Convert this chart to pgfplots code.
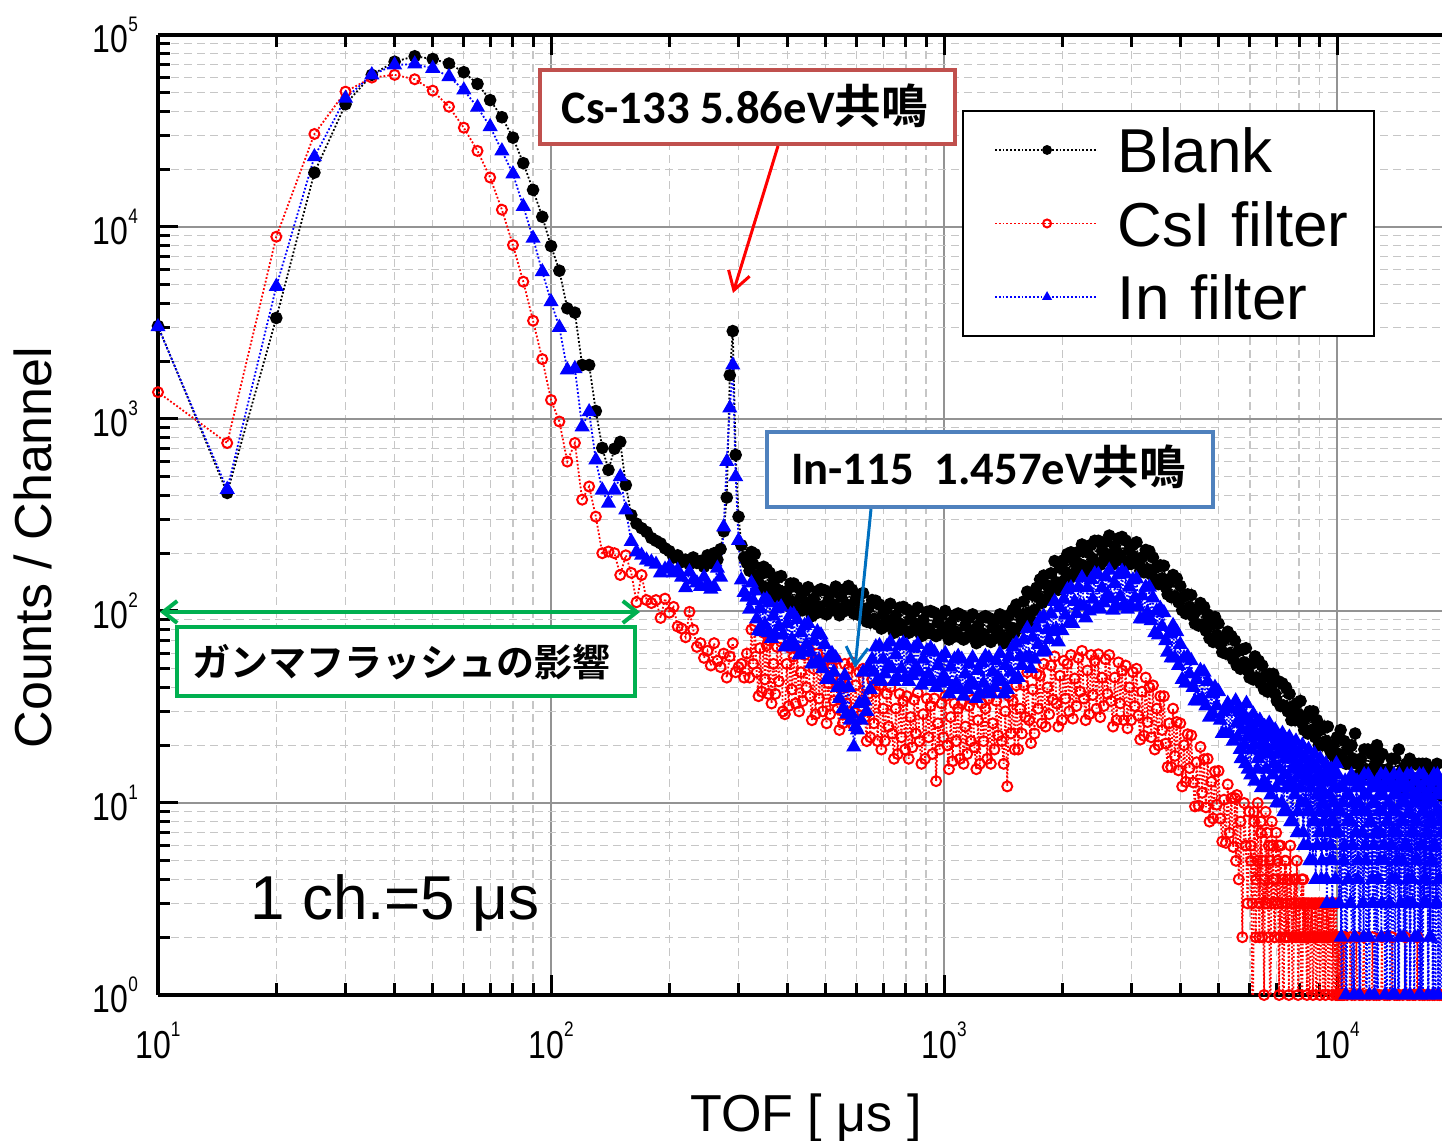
\documentclass[border=0pt]{standalone}
\usepackage{fontspec}
\setmainfont{Liberation Sans}
\newfontfamily\tickfont{Liberation Sans}[FakeStretch=0.82]
\newfontfamily\cjk{Noto Sans CJK JP}[BoldFont={Noto Sans CJK JP Bold}]
\newfontfamily\calib{Carlito}
\usepackage{pgfplots}
\pgfplotsset{compat=1.18}
\usetikzlibrary{arrows.meta}
\definecolor{csred}{RGB}{192,80,77}
\definecolor{inblue}{RGB}{79,129,189}
\definecolor{arrblue}{RGB}{0,112,192}
\definecolor{grn}{RGB}{0,176,80}
\newcommand{\tlab}[1]{{\tickfont\fontsize{19.5}{20}\selectfont 10\raisebox{10.8pt}{\fontsize{10.5}{11}\selectfont #1}}}
\begin{document}
\begin{tikzpicture}
\begin{axis}[
  scale only axis, width=642pt, height=480pt,
  xmode=log, ymode=log,
  xmin=10, xmax=18490, ymin=1, ymax=1e5,
  axis x line=box, axis y line=left,
  x axis line style={-}, y axis line style={-},
  axis line style={line width=2pt, black},
  tick align=inside,
  major tick length=10pt, minor tick length=6pt,
  every tick/.style={black, line width=1.5pt},
  xtick={10,100,1000,10000}, xticklabels={\tlab{1},\tlab{2},\tlab{3},\tlab{4}},
  ytick={1,10,100,1000,10000,100000}, yticklabels={\tlab{0},\tlab{1},\tlab{2},\tlab{3},\tlab{4},\tlab{5}},
  xticklabel style={yshift=-10pt},
  yticklabel style={xshift=-6.5pt},
  grid=both,
  major grid style={draw=gray!85, line width=0.7pt},
  minor grid style={draw=gray!45, line width=0.6pt, dash pattern=on 4pt off 2.5pt},
  label style={font=\fontsize{26}{30}\selectfont},
  xlabel={TOF [ μs ]},
  ylabel={Counts / Channel},
  xlabel style={at={(axis description cs:0.5047,-0.1427)}, anchor=base},
  ylabel style={at={(axis description cs:-0.0826,0.4661)}, anchor=base},
  legend style={at={(rel axis cs:0.6262,0.9219)}, anchor=north west,
    draw=black, line width=1pt, fill=white,
    font=\fontsize{31}{37}\selectfont,
    inner xsep=1pt, inner ysep=8pt, row sep=13.75pt, column sep=4pt,
    nodes={inner xsep=6pt, inner ysep=0pt, text height=23pt, text depth=0pt, text width=121pt, align=left},
    cells={anchor=west}},
  legend image code/.code={\path[draw=none, fill=none] (0pt,0pt) rectangle (66pt,1pt); \draw[#1, mark=none, line width=0.8pt] (15pt,0pt) -- (66pt,0pt); \draw[#1, mark size=2pt] plot[only marks] coordinates {(41pt,0pt)};},
]
\addplot[black, densely dotted, line width=0.9pt, mark=*, mark size=2.7pt, mark options={solid, fill=black}] coordinates {
(10,3050)(15,412)(20,3360)(25,19200)(30,43600)(35,62000)(40,72600)(45,77500)(50,75000)(55,71000)(60,64000)(65,55600)(70,45800)(75,37300)(80,29200)(85,21500)(90,15600)(95,11300)(100,7960)(105,5920)(110,3770)(115,3580)(120,1910)(125,1910)(130,1100)(135,707)(140,543)(145,700)(150,760)(155,453)(160,316)(165,285)(170,270)(175,258)(180,240)(185,232)(190,225)(195,212)(200,205)(205,190)(210,195)(215,180)(220,185)(225,175)(230,190)(235,178)(240,182)(245,170)(250,195)(255,178)(260,200)(265,185)(270,210)(275,260)(280,390)(285,1690)(290,2870)(295,650)(300,310)(305,220)(310,190)(315,178)
(320,162)(323.5,203)(327,175)(330,198)(333.6,153)(337.3,140)(340,155)(343.7,130)(347.5,170)(350,133)(353.9,165)(357.7,125)(360,158)(364,118)(368,140)(372,119)(376,149)(380,128)(385,152)(389,118)(393.5,108)(398,127)(402.4,106)(406.8,139)(410,112)(414.5,139)(419,105)(423,133)(427.7,100)(432.3,118)(437,101)(441.8,127)(446.6,109)(451,133)(456,103)(461,94)(466,116)(471,97)(476,127)(481,105)(486.3,130)(491.6,98)(497,128)(502.5,96)(508,113)(513,100)(518.6,125)(524.3,108)(530,134)(535.8,104)(541.7,95)(547,119)(553,99)(559,130)(565,108)(571.2,135)(577.4,101)(583,129)(589.4,97)(595.8,114)(602,96)(608.6,121)(615.2,104)(622,124)(628.8,96)(635.7,88)(642,104)(649,87)(656,114)(663,91)(670.3,113)(677.6,85)(685,108)(692.5,81)(700,96)(707,83)(714.8,104)(722.6,89)(730,109)(738,85)(746,77)(754,95)(762.3,79)(770.6,104)(779,85)(787.6,105)(796,79)(804,102)(812.8,77)(821.7,91)(830,79)(839,99)(848,85)(857,104)(866.4,81)(875.9,74)(885,90)(894.7,76)(904.5,99)(914,81)(924,100)(934,76)(944,98)(954.4,74)(964.8,87)(975,76)(985.7,95)(996.5,81)
(1007,100)(1018,78)(1029,71)(1040,87)(1051,73)(1063,95)(1074,78)(1086,97)(1098,73)(1109,95)(1121,71)(1133,84)(1145,73)(1158,92)(1170,79)(1182,96)(1195,74)(1208,68)(1220,84)(1233,70)(1247,92)(1260,76)(1274,94)(1288,71)(1301,92)(1315,69)(1330,82)(1343,72)(1358,90)(1373,78)(1387,96)(1402,74)(1418,68)(1432,87)(1448,73)(1464,95)(1479,82)(1495,101)(1512,77)(1527,108)(1544,81)(1561,96)(1577,89)(1594,112)(1612,96)(1628,126)(1646,98)(1664,89)(1681,121)(1699,101)(1718,132)(1736,118)(1755,146)(1774,110)(1793,153)(1813,115)(1832,136)(1851,125)(1871,157)(1892,135)(1911,182)(1932,141)(1953,129)(1973,168)(1995,141)(2016,184)(2037,160)(2059,198)(2082,150)(2103,202)(2126,151)(2149,179)(2172,162)(2196,203)(2220,175)(2243,222)(2268,172)(2292,157)(2316,202)(2341,169)(2367,221)(2391,187)(2417,232)(2444,175)(2469,232)(2496,174)(2523,206)(2549,183)(2577,229)(2605,197)(2632,247)(2661,192)(2690,175)(2718,218)(2748,183)(2778,239)(2806,196)(2837,243)(2868,183)(2897,233)(2929,175)(2961,207)(2991,176)(3024,221)(3057,190)(3088,228)(3122,177)(3156,162)(3189,190)(3224,159)(3259,208)(3293,165)(3329,205)(3365,155)(3400,190)(3437,143)(3475,169)(3511,138)(3550,173)(3588,148)(3625,172)(3665,133)(3705,122)(3743,141)(3784,118)(3825,154)(3865,119)(3908,148)(3950,111)(3991,135)(4035,101)(4079,119)(4121,97)(4166,122)(4212,105)(4255,121)(4302,94)(4349,86)(4393,101)(4441,84)(4490,110)(4536,85)(4586,105)(4636,79)(4684,96)(4736,72)(4787,85)(4836,69)(4889,93)(4942,75)(4993,86)(5048,67)(5103,61)(5155,71)(5212,60)(5268,78)(5323,60)(5382,74)(5440,56)(5496,70)(5556,52)(5617,62)(5675,50)(5737,63)(5800,54)(5860,64)(5924,49)(5989,45)(6050,53)(6117,44)(6183,58)(6247,45)(6316,55)(6385,42)(6450,52)(6521,39)(6592,46)(6660,38)(6733,47)(6807,41)(6877,47)(6953,37)(7028,34)(7100,43)(7178,32)(7256,42)(7331,32)(7412,40)(7492,30)(7570,37)(7653,27)(7736,32)(7816,27)(7902,33)(7988,29)(8070,34)(8159,26)(8248,24)(8333,28)(8425,23)(8516,30)(8604,24)(8699,30)(8793,22)(8884,27)(8982,20)(9079,24)(9173,20)(9274,25)(9375,21)(9471,25)(9575,19)(9679,18)(9779,20)(9887,17)(9994,22)
(10097,18)(10208,24)(10319,17)(10425,21)(10540,16)(10654,19)(10764,16)(10882,20)(11001,17)(11114,23)(11236,16)(11358,14)(11475,17)(11601,14)(11727,19)(11848,15)(11978,19)(12109,14)(12233,18)(12368,14)(12502,16)(12631,20)(12770,17)(12909,15)(13041,18)(13184,14)(13328,13)(13465,15)(13613,13)(13761,17)(13903,14)(14056,17)(14209,13)(14355,19)(14513,12)(14671,15)(14821,13)(14984,16)(15147,14)(15303,17)(15471,13)(15640,12)(15800,16)(15974,12)(16148,16)(16314,13)(16493,16)(16673,12)(16844,16)(17029,12)(17214,14)(17392,12)(17583,15)(17774,13)(17957,16)(18155,12)(18352,11)(18500,14)
};
\addlegendentry{Blank}
\addplot[red, densely dotted, line width=0.9pt, mark=o, mark size=2.5pt, mark options={solid, line width=1pt}] coordinates {
(10,1380)(15,750)(20,8900)(25,30500)(30,50700)(35,60000)(40,62000)(45,58800)(50,51300)(55,42300)(60,32900)(65,24900)(70,18100)(75,12300)(80,8050)(85,5190)(90,3250)(95,2050)(100,1256)(105,970)(110,600)(115,750)(120,380)(125,445)(130,310)(135,200)(140,204)(145,200)(150,154)(155,195)(160,158)(165,111)(170,154)(175,114)(180,110)(185,114)(190,92)(195,116)(200,98)(205,105)(210,83)(215,81)(220,73)(225,99)(230,80)(235,65)(240,68)(245,57)(250,62)(255,52)(260,68)(265,55)(270,51)(275,60)(280,45)(285,58)(290,68)(295,48)(300,51)(305,53)(310,45)(315,60)
(320,45)(323.5,80)(327,53)(330,84)(333.6,48)(337.3,36)(340,64)(343.7,38)(347.5,77)(350,44)(353.9,66)(357.7,37)(360,70)(364,33)(368,53)(372,37)(376,65)(380,43)(385,69)(389,30)(393.5,29)(398,53)(402.4,32)(406.8,64)(410,39)(414.5,58)(419,33)(423,63)(427.7,30)(432.3,48)(437,34)(441.8,59)(446.6,40)(451,64)(456,36)(461,27)(466,50)(471,29)(476,60)(481,35)(486.3,53)(491.6,30)(497,55)(502.5,26)(508,42)(513,29)(518.6,51)(524.3,34)(530,56)(535.8,31)(541.7,24)(547,44)(553,26)(559,53)(565,33)(571.2,50)(577.4,28)(583,54)(589.4,25)(595.8,41)(602,27)(608.6,48)(615.2,32)(622,50)(628.8,28)(635.7,21)(642,37)(649,22)(656,44)(663,26)(670.3,38)(677.6,21)(685,41)(692.5,19)(700,31)(707,21)(714.8,37)(722.6,25)(730,40)(738,23)(746,17)(754,31)(762.3,18)(770.6,37)(779,22)(787.6,34)(796,19)(804,36)(812.8,17)(821.7,28)(830,19.5)(839,34.5)(848,23)(857,37.5)(866.4,21)(875.9,16)(885,29)(894.7,17)(904.5,35)(914,22)(924,32)(934,18)(944,35)(954.4,13)(964.8,26)(975,19)(985.7,33)(996.5,22)
(1007,36)(1018,20)(1029,15)(1040,28)(1051,16.5)(1063,33)(1074,21)(1086,31)(1098,17)(1109,33)(1121,16)(1133,25)(1145,18)(1158,32)(1170,21)(1182,34.5)(1195,19.5)(1208,15)(1220,27)(1233,16)(1247,33)(1260,21)(1274,31)(1288,17)(1301,35)(1315,16)(1330,26)(1343,19)(1358,34)(1373,22.5)(1387,37.5)(1402,21)(1418,16)(1432,30)(1448,12.2)(1464,36)(1479,23)(1495,34)(1512,19)(1527,41)(1544,19)(1561,31)(1577,23)(1594,41)(1612,28)(1628,48)(1646,27)(1664,20.5)(1681,39)(1699,23)(1718,47)(1736,31)(1755,46)(1774,26)(1793,53)(1813,25)(1832,40)(1851,29)(1871,52)(1892,34.5)(1911,58)(1932,33)(1953,25)(1973,46)(1995,27)(2016,55)(2037,35)(2059,53)(2082,30)(2103,59)(2126,27.5)(2149,44.5)(2172,32)(2196,57)(2220,38)(2243,62)(2268,35)(2292,27)(2316,49)(2341,29)(2367,59)(2391,36.5)(2417,55)(2444,31)(2469,59.5)(2496,28)(2523,45)(2549,32)(2577,56)(2605,37)(2632,59)(2661,34)(2690,25)(2718,45)(2748,27)(2778,54)(2806,33)(2837,49)(2868,27)(2897,52)(2929,24.5)(2961,40)(2991,27)(3024,48)(3057,32)(3088,50)(3122,28.5)(3156,21.4)(3189,38)(3224,22.4)(3259,45)(3293,26.4)(3329,40)(3365,22)(3400,41)(3437,19)(3475,31)(3511,20)(3550,36)(3588,24)(3625,36)(3665,20.4)(3705,15.4)(3743,26)(3784,15.4)(3825,31)(3865,17.6)(3908,26.4)(3950,14.8)(3991,26)(4035,12.2)(4079,20)(4121,12.9)(4166,22.8)(4212,15.2)(4255,22.5)(4302,12.8)(4349,9.6)(4393,16.3)(4441,9.7)(4490,19.6)(4536,11.3)(4586,16.9)(4636,9.5)(4684,17)(4736,8)(4787,12.9)(4836,8.3)(4889,14.6)(4942,9.8)(4993,14.7)(5048,8.3)(5103,6.3)(5155,10.4)(5212,6.2)(5268,12.5)(5323,7)(5382,10.6)(5440,5.9)(5496,10.6)(5530,5)
(5560,11)(5620,4)(5680,8)(5740,2)(5800,10)(5860,6)(5920,3)(5980,9)(6040,5)(6100,0.5)(6160,8)(6220,4)(6280,10)(6340,2)(6400,7)(6460,5)(6520,1)(6580,9)(6640,3)(6700,6)(6760,0.5)(6820,8)(6880,4)(6940,2)(7000,7)(7060,5)(7120,1)(7180,6)(7240,3)(7300,0.5)(7360,5)(7420,2)(7480,4)(7540,1)(7600,6)(7660,3)(7720,0.5)(7780,4)(7840,2)(7900,5)(7960,1)(8020,3)(8080,2)(8140,0.5)(8200,4)(8260,2)(8320,3)(8380,1)(8440,3)(8500,0.5)(8560,2)(8620,3)(8680,1)(8740,2)(8800,3)(8860,0.5)(8920,2)(8980,3)(9040,1)(9100,2)(9160,3)(9220,0.5)(9280,2)(9340,1)(9400,3)(9460,2)(9520,0.5)(9580,2)(9640,3)(9700,1)(9760,2)(9820,0.5)(9880,2)(9940,3)
(10000,1)(10100,2)(10200,0.5)(10300,1)(10400,2)(10500,0.5)(10600,1)(10700,0.5)(10800,2)(10900,1)(11000,0.5)(11100,1)(11200,2)(11300,0.5)(11400,1)(11500,0.5)(11600,1)(11700,2)(11800,0.5)(11900,1)(12000,0.5)(12100,1)(12200,0.5)(12300,2)(12400,1)(12500,0.5)(12600,1)(12700,0.5)(12800,1)(12900,0.5)(13000,2)(13100,0.5)(13200,1)(13300,0.5)(13400,1)(13500,0.5)(13600,1)(13700,0.5)(13800,2)(13900,0.5)(14000,1)(14100,0.5)(14200,1)(14300,0.5)(14400,1)(14500,0.5)(14600,0.5)(14700,1)(14800,0.5)(14900,2)(15000,0.5)(15100,1)(15200,0.5)(15300,1)(15400,0.5)(15500,0.5)(15600,1)(15700,0.5)(15800,1)(15900,0.5)(16000,2)(16100,0.5)(16200,1)(16300,0.5)(16400,0.5)(16500,1)(16600,0.5)(16700,1)(16800,0.5)(16900,0.5)(17000,1)(17100,0.5)(17200,1)(17300,0.5)(17400,0.5)(17500,1)(17600,0.5)(17700,1)(17800,0.5)(17900,0.5)(18000,1)(18100,0.5)(18200,1)(18300,0.5)(18400,1)(18500,0.5)
};
\addlegendentry{CsI filter}
\addplot[red, densely dotted, line width=0.9pt, mark=o, mark size=2.5pt, mark options={solid, line width=1pt}, forget plot] coordinates {
(6030,6)(6090,3)(6150,9)(6210,2)(6270,5)(6330,3)(6390,8)(6450,2)(6510,4)(6570,3)(6630,7)(6690,2)(6750,5)(6810,3)(6870,6)(6930,2)(6990,4)(7050,3)(7110,6)(7170,2)(7230,3)(7290,4)(7350,2)(7410,5)(7470,3)(7530,2)(7590,4)(7650,3)(7710,2)(7770,3)(7830,4)(7890,2)(7950,3)(8010,2)(8070,3)(8130,4)(8190,2)(8250,3)(8310,2)(8370,3)(8430,2)(8490,3)(8550,2)(8610,3)(8670,2)(8730,3)(8790,2)(8850,3)(8910,2)(8970,3)(9030,2)(9090,3)(9150,2)(9210,3)(9270,2)(9330,3)(9390,2)(9450,3)(9510,2)(9570,3)(9630,2)(9690,3)(9750,2)(9810,3)(9870,2)(9930,1)(9990,2)(10050,1)(10110,2)(10170,1)(10230,2)(10290,1)(10350,2)(10410,1)(10470,2)
};
\addplot[blue, densely dotted, line width=0.9pt, mark=triangle*, mark size=3.5pt, mark options={solid, fill=blue}] coordinates {
(10,3020)(15,430)(20,4900)(25,23200)(30,46800)(35,62000)(40,69800)(45,70600)(50,67000)(55,60700)(60,51700)(65,42000)(70,33300)(75,24900)(80,18900)(85,12800)(90,8730)(95,5850)(100,4080)(105,3000)(110,1800)(115,1830)(120,910)(125,1090)(130,611)(135,426)(140,364)(145,426)(150,500)(155,336)(160,230)(165,203)(170,195)(175,184)(180,180)(185,175)(190,158)(195,165)(200,170)(205,158)(210,163)(215,150)(220,132)(225,160)(230,145)(235,140)(240,134)(245,150)(250,138)(255,130)(260,134)(265,167)(270,150)(275,274)(280,600)(285,1140)(290,1910)(295,500)(300,233)(305,145)(310,125)(315,118)
(320,102)(323.5,140)(327,113)(330,127)(333.6,91)(337.3,79)(340,103)(343.7,78)(347.5,114)(350,85)(353.9,115)(357.7,77)(360,110)(364,72)(368,94)(372,75)(376,103)(380,83)(385,105)(389,75)(393.5,65)(398,86)(402.4,66)(406.8,96)(410,71)(414.5,96)(419,65)(423,90)(427.7,59)(432.3,77)(437,61)(441.8,84)(446.6,67)(451,86)(456,61)(461,53)(466,70)(471,53)(476,78)(481,55)(486.3,75)(491.6,50)(497,67)(502.5,44)(508,57)(513,44)(518.6,60)(524.3,48)(530,57)(535.8,40)(541.7,35)(547,41)(553,31)(559,46)(565,29)(571.2,40)(577.4,27)(583,29)(589.4,19.6)(595.8,25)(602,24)(608.6,33)(615.2,27)(622,48)(628.8,34)(635.7,30)(642,51)(649,39)(656,56)(663,48)(670.3,65)(677.6,44)(685,66)(692.5,43)(700,56)(707,47)(714.8,65)(722.6,52)(730,69)(738,50)(746,43)(754,59)(762.3,45)(770.6,66)(779,50)(787.6,68)(796,45)(804,66)(812.8,43)(821.7,56)(830,46)(839,64)(848,51)(857,67)(866.4,48)(875.9,41)(885,56)(894.7,43)(904.5,62)(914,47)(924,64)(934,43)(944,61)(954.4,40)(964.8,52)(975,42)(985.7,57)(996.5,46)
(1007,60)(1018,43)(1029,37)(1040,51)(1051,39)(1063,56)(1074,42)(1086,58)(1098,39)(1109,56)(1121,36)(1133,47)(1145,39)(1158,53)(1170,43)(1182,57)(1195,41)(1208,35)(1220,49)(1233,37)(1247,54)(1260,42)(1274,58)(1288,39)(1301,57)(1315,37)(1330,48)(1343,40)(1358,55)(1373,45)(1387,60)(1402,43)(1418,37)(1432,52)(1448,39)(1464,58)(1479,48)(1495,65)(1512,44)(1527,68)(1544,45)(1561,58)(1577,52)(1594,71)(1612,57)(1628,81)(1646,58)(1664,50)(1681,73)(1699,56)(1718,82)(1736,67)(1755,91)(1774,61)(1793,94)(1813,62)(1832,80)(1851,71)(1871,97)(1892,78)(1911,112)(1932,80)(1953,69)(1973,104)(1995,79)(2016,115)(2037,95)(2059,129)(2082,87)(2103,132)(2126,86)(2149,112)(2172,97)(2196,133)(2220,107)(2243,149)(2268,106)(2292,92)(2316,132)(2341,100)(2367,146)(2391,115)(2417,156)(2444,105)(2469,155)(2496,102)(2523,132)(2549,110)(2577,151)(2605,122)(2632,163)(2661,116)(2690,101)(2718,139)(2748,106)(2778,155)(2806,119)(2837,161)(2868,108)(2897,156)(2929,102)(2961,133)(2991,106)(3024,145)(3057,117)(3088,147)(3122,105)(3156,91)(3189,120)(3224,91)(3259,133)(3293,98)(3329,133)(3365,89)(3400,117)(3437,77)(3475,100)(3511,75)(3550,103)(3588,83)(3625,98)(3665,70)(3705,61)(3743,76)(3784,57)(3825,84)(3865,57)(3908,78)(3950,52)(3991,67)(4035,44)(4079,57)(4121,42)(4166,58)(4212,47)(4255,55)(4302,40)(4349,34)(4393,44)(4441,34)(4490,49)(4536,35)(4586,48)(4636,32)(4684,43)(4736,28)(4787,37)(4836,29)(4889,40)(4942,32)(4993,38)(5048,27)(5103,23)(5155,30)(5212,23)(5268,33)(5323,23)(5382,31)(5440,21)
(5520,34)(5580,22)(5640,30)(5700,17)(5760,27)(5820,20)(5880,33)(5940,15)(6000,25)(6060,19)(6120,29)(6180,13)(6240,23)(6300,17)(6360,27)(6420,12)(6480,21)(6540,25)(6600,15)(6660,19)(6720,26)(6780,11)(6840,22)(6900,16)(6960,24)(7020,10)(7080,18)(7140,21)(7200,13)(7260,23)(7320,9)(7380,17)(7440,20)(7500,12)(7560,22)(7620,8)(7680,15)(7740,19)(7800,11)(7860,21)(7920,7)(7980,14)(8040,18)(8100,10)(8160,20)(8220,6)(8280,13)(8340,17)(8400,9)(8460,19)(8520,5)(8580,12)(8640,16)(8700,8)(8760,18)(8820,4)(8880,11)(8940,15)(9000,7)(9060,17)(9120,4)(9180,10)(9240,14)(9300,6)(9360,16)(9420,3)(9480,9)(9540,13)(9600,5)(9660,15)(9720,3)(9780,8)(9840,12)(9900,4)(9960,16)
(10040,14)(10120,3)(10200,9)(10280,0.5)(10360,12)(10440,6)(10520,1)(10600,11)(10680,4)(10760,13)(10840,8)(10920,0.5)(11000,10)(11080,2)(11160,7)(11240,13)(11320,5)(11400,1)(11480,12)(11560,9)(11640,3)(11720,14)(11800,6)(11880,0.5)(11960,11)(12040,2)(12120,8)(12200,13)(12280,4)(12360,10)(12440,1)(12520,7)(12600,12)(12680,0.5)(12760,9)(12840,5)(12920,14)(13000,3)(13080,11)(13160,6)(13240,1)(13320,13)(13400,8)(13480,2)(13560,10)(13640,0.5)(13720,12)(13800,4)(13880,7)(13960,14)(14040,1)(14120,9)(14200,5)(14280,11)(14360,0.5)(14440,13)(14520,3)(14600,8)(14680,12)(14760,2)(14840,6)(14920,10)(15000,0.5)(15080,14)(15160,4)(15240,9)(15320,1)(15400,12)(15480,7)(15560,3)(15640,11)(15720,0.5)(15800,13)(15880,5)(15960,8)(16040,2)(16120,10)(16200,14)(16280,1)(16360,6)(16440,12)(16520,0.5)(16600,9)(16680,4)(16760,11)(16840,3)(16920,13)(17000,7)(17080,0.5)(17160,10)(17240,2)(17320,12)(17400,5)(17480,8)(17560,1)(17640,14)(17720,6)(17800,0.5)(17880,11)(17960,3)(18040,9)(18120,13)(18200,4)(18280,0.5)(18360,12)(18440,7)
};
\addlegendentry{In filter}
\addplot[blue, densely dotted, line width=0.9pt, mark=triangle*, mark size=3.5pt, mark options={solid, fill=blue}, forget plot] coordinates {
(5550,26)(5610,31)(5670,19)(5730,24)(5790,29)(5850,16)(5910,22)(5970,27)(6030,14)(6090,24)(6150,20)(6210,26)(6270,15)(6330,22)(6390,18)(6450,24)(6510,13)(6570,20)(6630,23)(6690,12)(6750,18)(6810,24)(6870,14)(6930,20)(6990,12)(7050,22)(7110,15)(7170,19)(7230,10)(7290,21)(7350,14)(7410,18)(7470,9)(7530,20)(7590,13)(7650,17)(7710,8)(7770,19)(7830,12)(7890,16)(7950,9)(8010,18)(8070,12)(8130,15)(8190,7)(8250,17)(8310,10)(8370,14)(8430,6)(8490,16)(8550,9)(8610,13)(8670,5)(8730,15)(8790,8)(8850,13)(8910,6)(8970,14)(9030,9)(9090,12)(9150,5)(9210,13)(9270,8)(9330,11)(9390,4)(9450,14)(9510,7)(9570,11)(9630,6)(9690,13)(9750,5)(9810,10)(9870,7)(9930,14)(9990,9)
(10080,7)(10160,12)(10240,2)(10320,10)(10400,5)(10480,13)(10560,0.5)(10640,8)(10720,11)(10800,3)(10880,14)(10960,6)(11040,1)(11120,9)(11200,12)(11280,4)(11360,10)(11440,0.5)(11520,13)(11600,7)(11680,2)(11760,11)(11840,5)(11920,9)(12000,14)(12080,1)(12160,8)(12240,12)(12320,3)(12400,6)(12480,10)(12560,0.5)(12640,13)(12720,4)(12800,11)(12880,7)(12960,2)(13040,9)(13120,12)(13200,5)(13280,14)(13360,0.5)(13440,8)(13520,10)(13600,3)(13680,13)(13760,6)(13840,1)(13920,11)(14000,9)(14080,4)(14160,12)(14240,7)(14320,0.5)(14400,14)(14480,2)(14560,10)(14640,5)(14720,8)(14800,13)(14880,1)(14960,11)(15040,6)(15120,3)(15200,12)(15280,9)(15360,0.5)(15440,14)(15520,4)(15600,10)(15680,7)(15760,2)(15840,13)(15920,8)(16000,5)(16080,11)(16160,1)(16240,12)(16320,6)(16400,0.5)(16480,9)(16560,14)(16640,3)(16720,10)(16800,4)(16880,13)(16960,7)(17040,1)(17120,11)(17200,8)(17280,2)(17360,12)(17440,5)(17520,0.5)(17600,10)(17680,6)(17760,13)(17840,3)(17920,9)(18000,14)(18080,1)(18160,11)(18240,4)(18320,8)(18400,12)(18480,0.5)
};
\end{axis}
% annotations (absolute positions, axis lower-left at origin)
\node[anchor=base west, inner sep=0pt] at (46pt,37.5pt) {\fontsize{31}{31}\selectfont 1 ch.=5 μs};
\draw[csred, line width=2pt, fill=white] (191pt,425.5pt) rectangle (398.5pt,462.5pt);
\node[anchor=base, inner sep=0pt] at (293.3pt,435.9pt) {\fontsize{23.3}{28}\selectfont\calib\bfseries Cs-133 5.86eV\cjk 共鳴};
\draw[red, line width=1.5pt, -{Straight Barb[length=9pt,width=11pt]}] (310pt,424.5pt) -- (287.5pt,351pt);
\draw[inblue, line width=2pt, fill=white] (304.5pt,244pt) rectangle (527.5pt,281.5pt);
\node[anchor=base, inner sep=0pt] at (415.3pt,255pt) {\fontsize{23.3}{28}\selectfont\calib\bfseries In-115\ \ 1.457eV\cjk 共鳴};
\draw[arrblue, line width=1.5pt, -{Straight Barb[length=9pt,width=11pt]}] (356.5pt,243pt) -- (348.5pt,163.5pt);
\draw[grn, line width=2pt, fill=white] (9.5pt,149.5pt) rectangle (238.5pt,184pt);
\node[anchor=center, inner sep=0pt] at (121.8pt,166.5pt) {\fontsize{19}{22}\selectfont\cjk\bfseries ガンマフラッシュの影響};
\draw[grn, line width=2pt, {Straight Barb[length=7pt,width=11pt]}-{Straight Barb[length=7pt,width=11pt]}] (1pt,191.5pt) -- (241pt,191.5pt);
\pgfresetboundingbox
\path[use as bounding box] (-79pt,-73pt) rectangle (642pt,497.5pt);
\end{tikzpicture}
\end{document}
